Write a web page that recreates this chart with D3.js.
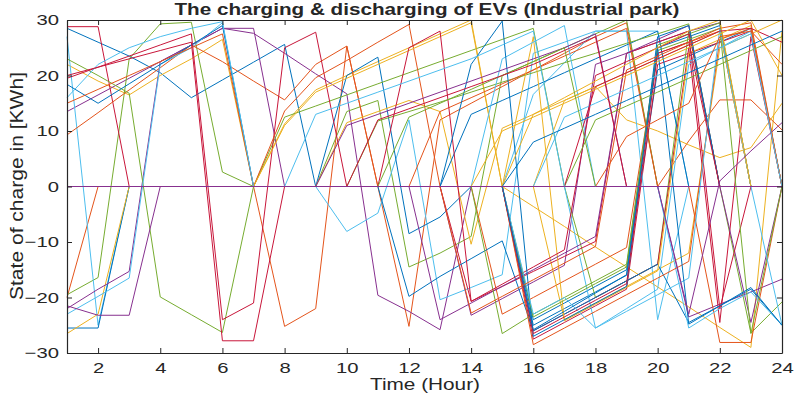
<!DOCTYPE html>
<html>
<head>
<meta charset="utf-8">
<script src="https://cdn.jsdelivr.net/npm/d3@7"></script>
<style>
body { margin: 0; background: #fff; }
text { font-family: "Liberation Sans", Arial, sans-serif; fill: #262626; }
</style>
</head>
<body>
<div id="chart"></div>
<script>
var w = 796;
var h = 396;
var margin = {top: 20, right: 14, bottom: 43, left: 67};

var hours = d3.range(1, 25);
var xTicks = [2, 4, 6, 8, 10, 12, 14, 16, 18, 20, 22, 24];
var yTicks = [-30, -20, -10, 0, 10, 20, 30];

// MATLAB-like line colours, cycled over the EVs
var colors = ["#0072BD", "#E4541B", "#EDB120", "#87308F", "#77AC30", "#4DBEEE", "#C8163A"];

// state of charge of each EV, hour 1..24
var soc = [
  [28.5,26,23.5,20.5,16,19.2, 22.4,25.6,0,0,0,0, 0,0,0,-25,-22,-19, -16,21,23.5,26,28.5,0],
  [-20,0,0,0,0,0, 0,-25.2,-22,25.3,0,-25.2, 12,15,18,21,24,27, 29.5,0,0,0,0,0],
  [22,19,16.5,20,23,26.5, 0,11.3,17.4,20,22.5,25, 27.5,30,0,-3.6,-7.2,-10.9, -14.5,-18.1,-21.7,-25.4,-29,28],
  [13.5,16.5,19.5,22.5,25.5,28.5, 27.6,24,20.3,16.7,-19.6,-22.5, -25.8,0,0,0,0,0, 0,0,-23.5,-21.2,-19,-16.7],
  [-19.5,-16.4,23,29.3,29.6,2.6, 0,0,0,13.5,15.5,-14.5, -12,-9,20,22.5,25,27.5, 30,0,0,0,-26.4,-20.8],
  [27,-25,0,0,0,0, 0,0,0,-8.1,-4.8,12, -20.4,-18.2,-15.9,24,26,28, 28,28,0,0,0,0],
  [28.8,28.8,0,0,0,0, 0,0,0,0,0,0, 0,0,0,-27.5,-24.5,-21.5, -18.5,22,24,26,28,0],

  [-25.5,-25.5,0,0,0,0, 0,0,0,20,23.3,-8.5, -5.5,0,0,-24,-21,-18, -15,25,27,29,0,0],
  [9.3,13.3,17.4,21.4,25.5,22.5, 19,15.6,22,25.3,0,0, 0,0,0,0,0,0, 0,0,8.2,15.6,15.6,10.2],
  [-26.5,-23,0,0,0,0, 0,0,0,11.5,13.5,15.5, 13.5,-10.4,10.5,13,15.5,18, 12,10,7.5,5.2,7,15],
  [-22,-18.5,-15.3,22.5,25.5,28.5, 28.5,0,0,0,0,0, 0,-23.2,-20.2,-17.2,-14.2,22, 24,26,28,29.5,0,0],
  [23,20,16.8,-19.9,-23.1,-26.3, 0,12.5,14.5,16.5,18.5,20.5, 22.5,24.5,26.5,28.5,0,-20, -17,-14,28,0,0,0],
  [-23,-19.8,-16.5,22,25,29.5, 0,0,0,0,0,0, 0,0,0,16.6,22.3,28, 28,-24,0,0,0,0],
  [19.5,21.5,23.5,25.5,27.5,-24, -21,25,27.8,0,0,0, 0,0,0,-26,-23,-20, -17,-14,25,-24.5,27,0],

  [18.4,15,18.5,22,25.5,29, 0,0,0,0,0,0, 0,13,15.5,18,20.5,23, 25.5,28,0,0,0,0],
  [15,17.5,20,22.5,25,27.5, 0,13.6,19.6,22.7,26,29.2, 0,0,-23,-20,-17,-14, -11,24,26,28,0,0],
  [0,0,0,0,0,0, 0,11,17,19.5,22,24.5, 27,29.5,0,0,-24,-21, -18,-15,-12,25,27.5,30],
  [-21.5,-23.2,-23.2,0,0,0, 0,0,0,0,0,0, 0,0,0,0,0,0, 0,0,0,0,0,0],
  [0,0,0,0,0,0, 0,0,0,0,11.8,13.5, 15.2,17,18.8,20.5,22.3,24, 25.8,27.5,29.3,0,0,0],
  [16,22,25,27,28.5,29.7, 0,0,0,0,0,0, 0,0,0,0,0,-25.5, -22,-18.5,22,25,28,0],
  [20,21.5,23,24.5,26,-27.8, -27.8,0,0,0,0,0, 0,-20.7,-18,-15.3,-12.6,-9.9, 24,26,28,0,0,0],

  [0,0,0,0,0,0, 0,0,0,0,0,-19.8, -16.2,-13,-9.8,-26,-23,-20, -17,-14,-24.5,-21.5,-18.5,-25],
  [0,0,0,0,0,0, 0,0,0,0,0,0, 13.5,16,18.5,21,23.5,26, 28.5,0,0,-28.1,-28.1,0],
  [0,0,0,0,0,0, 0,0,0,0,0,0, 0,0,0,27,-24.2,-21.2, -18.2,-15.2,24,26.5,29,0],
  [0,0,0,0,0,0, 0,0,0,0,0,0, -24,-21,-18,-15,-12,-9, 24,26.5,29,0,-24.5,0],
  [0,0,0,0,0,0, 0,0,0,0,0,0, 0,0,-26.5,-23,-20,-17, -14,25.5,27.5,29.5,0,0],
  [0,0,0,0,0,0, 0,0,0,0,0,0, 0,0,23,26,29,0, 0,0,-25.5,-22,-19,-25],
  [0,0,0,0,0,0, 0,0,0,0,0,25, 28,-20.7,-17.6,-14.5,-11.4,20, 22.5,25,27.5,-22,0,0],

  [0,0,0,0,0,0, 0,0,0,0,0,0, 0,22,29.8,-27,-24,-21, -18,27,29,0,0,0],
  [0,0,0,0,0,0, 0,0,0,0,0,0, 0,0,0,-28.5,-25.5,-22.5, -19.5,-16.5,-13.5,26.5,28.5,0],
  [0,0,0,0,0,0, 0,0,0,0,0,0, 0,0,0,0,15.5,18, 20.5,23,25.5,28,0,0],
  [0,0,0,0,0,0, 0,0,0,0,0,0, 0,0,0,0,0,0, 0,0,0,0,0,0],
  [0,0,0,0,0,0, 0,0,0,0,0,0, 0,0,0,-23.5,-20.5,-17.5, -14.5,24.5,26.5,28.5,-26.5,0],
  [0,0,0,0,0,0, 0,0,0,0,0,0, 0,0,0,-23,-20,-25.5, -22.5,-19.5,-16.5,28.5,0,-25],
  [0,0,0,0,0,0, 0,0,0,0,0,0, 0,0,0,-26.5,-23.5,-20.5, -17.5,24,26,0,0,0],

  [0,0,0,0,0,0, 0,0,0,0,0,0, 0,0,0,-25.8,-22.5,-19.2, -15.9,25,-24.8,-21.5,-18.2,-25],
  [0,0,0,0,0,0, 0,0,0,0,0,0, 0,-22.8,-19.8,-16.8,-13.8,-10.8, 21,23.5,26,28.5,29.5,0],
  [0,0,0,0,0,0, 0,0,0,0,0,0, 0,0,0,13,16,19, 22,25,28,30,0,0],
  [0,0,0,0,0,0, 0,0,0,0,0,0, 0,0,0,0,0,0, 0,0,-23,1,6.4,11.5],
  [0,0,0,0,0,0, 0,0,0,0,0,0, 0,0,0,0,0,12, 14.5,17,19.5,22,24.5,27],
  [0,0,0,0,0,0, 0,0,0,0,0,0, 0,0,0,0,12.5,15, 17.5,20,22.5,25,27.5,0],
  [0,0,0,0,0,0, 0,0,0,0,0,0, 0,0,0,0,0,18, 20.5,23,25.5,28,28.5,26],

  [0,0,0,0,0,0, 0,0,0,0,0,0, 0,0,0,8,10.5,13, 15.5,18,20.5,23,25.5,28],
  [0,0,0,0,0,0, 0,0,0,0,0,0, 0,0,0,0,0,0, 9,12,15,27,28,22],
  [0,0,0,0,0,0, 0,0,0,0,0,0, 0,0,10,12.5,15,17.5, 20,22.5,25,27.5,30,20],
  [0,0,0,0,0,0, 0,0,0,11,13,15, 17,19,21,23,25,27.5, 0,0,0,0,0,0],
  [0,0,0,0,0,0, 0,0,0,0,0,12.5, 15,17.5,20,22.5,25,0, 0,0,0,0,0,0],
  [0,0,0,0,0,0, 0,0,13,15,17,19, 21,23,25.5,28,0,0, 0,0,0,0,0,0],
  [0,0,0,0,0,0, 0,0,0,0,12,14, 16,18,20,22,24.5,27, 0,0,0,0,0,0]
];

var svg = d3.select("#chart")
  .append("svg")
  .attr("width", w)
  .attr("height", h);

var x = d3.scaleLinear()
  .domain([1, 24])
  .range([margin.left, w - margin.right]);

var y = d3.scaleLinear()
  .domain([-30, 30])
  .range([h - margin.bottom, margin.top]);

var line = d3.line()
  .x(function(d, i) { return x(hours[i]); })
  .y(function(d) { return y(d); });

var paths = svg.append("g")
  .selectAll("path")
  .data(soc)
  .enter()
  .append("path")
  .attr("fill", "none")
  .attr("stroke", function(d, i) { return colors[i % colors.length]; })
  .attr("stroke-width", 1)
  .attr("d", line);

// the idle EV (purple, always 0) sits on top of the zero line
paths.filter(function(d, i) { return i === 31; }).raise();

// axes, ticks pointing inward like MATLAB
var xAxis = d3.axisBottom(x).tickValues(xTicks).tickSizeInner(-5).tickSizeOuter(0).tickPadding(9);
var xTop = d3.axisTop(x).tickValues(xTicks).tickSizeInner(-5).tickSizeOuter(0).tickFormat("");
var yAxis = d3.axisLeft(y).tickValues(yTicks).tickSizeInner(-5).tickSizeOuter(0).tickPadding(6);
var yRight = d3.axisRight(y).tickValues(yTicks).tickSizeInner(-5).tickSizeOuter(0).tickFormat("");

svg.append("g").attr("transform", "translate(0," + (h - margin.bottom) + ")").call(xAxis);
svg.append("g").attr("transform", "translate(0," + margin.top + ")").call(xTop);
svg.append("g").attr("transform", "translate(" + margin.left + ",0)").call(yAxis);
svg.append("g").attr("transform", "translate(" + (w - margin.right) + ",0)").call(yRight);

svg.selectAll(".domain").attr("stroke", "#262626").attr("stroke-width", 1.2);
svg.selectAll(".tick line").attr("stroke", "#262626");
svg.selectAll(".tick text")
  .style("font-size", "15px")
  .style("font-family", "Liberation Sans, Arial, sans-serif")
  .attr("fill", "#262626")
  .attr("transform", "scale(1.35,1)");

svg.append("text")
  .attr("x", 427)
  .attr("y", 15)
  .attr("text-anchor", "middle")
  .attr("textLength", 505)
  .attr("lengthAdjust", "spacingAndGlyphs")
  .style("font-size", "16px")
  .style("font-weight", "bold")
  .text("The charging & discharging of EVs (Industrial park)");

svg.append("text")
  .attr("x", 425)
  .attr("y", 390)
  .attr("text-anchor", "middle")
  .attr("textLength", 110)
  .attr("lengthAdjust", "spacingAndGlyphs")
  .style("font-size", "16px")
  .text("Time (Hour)");

svg.append("text")
  .attr("transform", "translate(23,186) rotate(-90)")
  .attr("text-anchor", "middle")
  .attr("textLength", 228)
  .attr("lengthAdjust", "spacingAndGlyphs")
  .style("font-size", "18px")
  .text("State of charge in [KWh]");
</script>
</body>
</html>
